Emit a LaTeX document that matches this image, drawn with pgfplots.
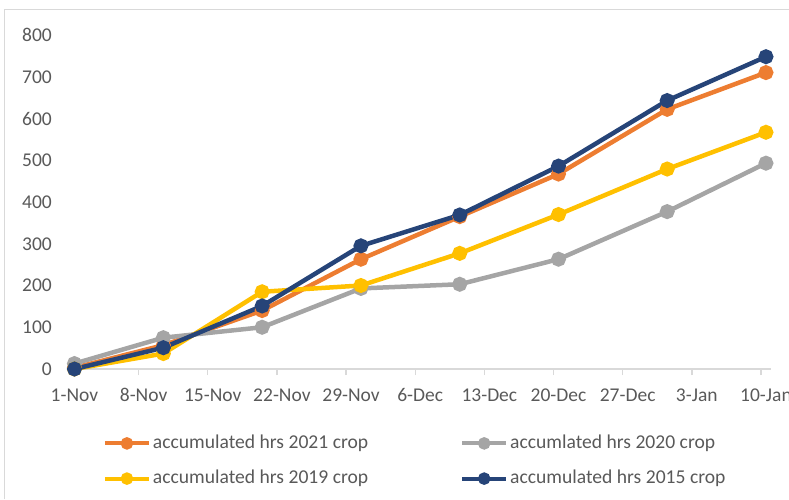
\documentclass[border=0pt]{standalone}
\usepackage{pgfplots}
\pgfplotsset{compat=1.18}
\usepackage{fontspec}
\setmainfont{Carlito}
\definecolor{cOrange}{HTML}{ED7D31}
\definecolor{cGray}{HTML}{A5A5A5}
\definecolor{cYellow}{HTML}{FFC000}
\definecolor{cBlue}{HTML}{264478}
\definecolor{cText}{HTML}{595959}
\definecolor{cAxis}{HTML}{D9D9D9}
\begin{document}
\begin{tikzpicture}
\path[use as bounding box] (-69.5pt,-130pt) rectangle (719.5pt,369pt);
\draw[cAxis, line width=1pt] (-64.5pt,-130pt) -- (-64.5pt,359pt) -- (719.5pt,359pt);
\begin{axis}[
  scale only axis,
  width=701.4pt, height=334pt,
  xmin=-0.5, xmax=70.5, ymin=0, ymax=800,
  axis x line*=bottom,
  axis y line*=left,
  x axis line style={cAxis, line width=1.3pt, -},
  y axis line style={draw=none},
  xtick={-0.5,6.5,13.5,20.5,27.5,34.5,41.5,48.5,55.5,62.5,69.5},
  xticklabels={1-Nov,8-Nov,15-Nov,22-Nov,29-Nov,6-Dec,13-Dec,20-Dec,27-Dec,3-Jan,10-Jan},
  ytick={0,100,...,800},
  tick align=outside,
  xtick style={cAxis, line width=1.3pt},
  major tick length=6pt,
  ytick style={draw=none},
  /pgf/number format/assume math mode=true,
  ticklabel style={font=\fontsize{19.5}{23}\selectfont, text=cText},
  xticklabel style={inner sep=0pt, anchor=base, xshift=4.94pt, yshift=-26.7pt},
  yticklabel style={inner sep=0pt, anchor=east, xshift=-11.5pt},
  every axis plot/.append style={line width=4.5pt, mark=*, mark size=5.2pt, mark options={solid}},
  legend columns=2,
  legend cell align=left,
  legend style={draw=none, fill=none, inner sep=0pt, outer sep=0pt,
    at={(axis description cs:0.5,0)}, anchor=north, yshift=-63.4pt, xshift=-5pt,
    font=\fontsize{19.6}{23}\selectfont, text=cText,
    nodes={inner sep=2pt, text height=14pt, text depth=4pt},
    row sep=13.2pt,
    /tikz/every even column/.append style={column sep=90pt}},
  legend image code/.code={\draw[#1, line width=4pt, mark size=4.2pt, mark repeat=2, mark phase=2] plot coordinates {(0pt,0pt) (22pt,0pt) (44pt,0pt)};},
]
\addplot[cOrange, mark options={fill=cOrange, draw=cOrange}] coordinates {(0,3) (9,57) (19,140) (29,263) (39,365) (49,467) (60,622) (70,710)};
\addlegendentry{accumulated hrs 2021 crop}
\addplot[cGray, mark options={fill=cGray, draw=cGray}] coordinates {(0,13) (9,75) (19,100) (29,193) (39,203) (49,263) (60,377) (70,493)};
\addlegendentry{accumlated hrs 2020 crop}
\addplot[cYellow, mark options={fill=cYellow, draw=cYellow}] coordinates {(0,0) (9,37) (19,185) (29,200) (39,277) (49,370) (60,479) (70,567)};
\addlegendentry{accumulated hrs 2019 crop}
\addplot[cBlue, mark options={fill=cBlue, draw=cBlue}] coordinates {(0,0) (9,51) (19,151) (29,295) (39,369) (49,486) (60,643) (70,748)};
\addlegendentry{accumulated hrs 2015 crop}
\end{axis}
\end{tikzpicture}
\end{document}
